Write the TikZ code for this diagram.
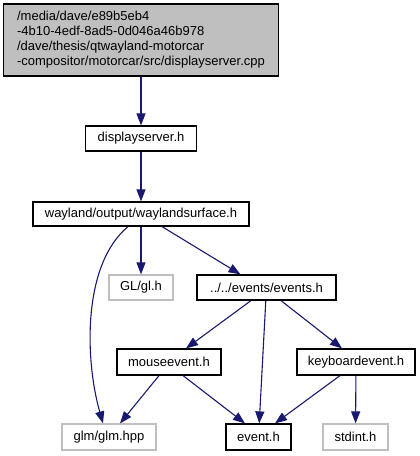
\documentclass[tikz,border=0pt]{standalone}
\usepackage{fontspec}
\setmainfont{Liberation Sans}
\usetikzlibrary{arrows.meta, positioning}
\definecolor{edgeblue}{RGB}{25, 25, 112}
\definecolor{boxgray}{RGB}{191, 191, 191}

\begin{document}
\begin{tikzpicture}[x=1pt,y=-1pt,
    file/.style={draw=black,line width=1.2pt,fill=white,inner sep=0pt,
                 font=\fontsize{13}{15}\selectfont},
    sysfile/.style={file,draw=boxgray},
    dep/.style={-{Triangle[length=12pt,width=9pt]}}]
        \useasboundingbox (0,0) rectangle (420,456);
        % files
        \node[file,fill=boxgray,minimum width=275pt,minimum height=72pt,
              align=left] (src) at (141,40)
              {/media/dave/e89b5eb4\\-4b10-4edf-8ad5-0d046a46b978\\/dave/thesis/qtwayland-motorcar\\-compositor/motorcar/src/displayserver.cpp};
        \node[file,minimum width=111pt,minimum height=25pt] (disp) at (141,138.5) {displayserver.h};
        \node[file,minimum width=216pt,minimum height=24pt] (wsurf) at (141,214) {wayland/output/waylandsurface.h};
        \node[sysfile,minimum width=64pt,minimum height=25pt] (gl) at (141,287.5) {GL/gl.h};
        \node[file,minimum width=139pt,minimum height=25pt] (events) at (266.5,287.5) {../../events/events.h};
        \node[file,minimum width=104pt,minimum height=26pt] (mouse) at (169,362) {mouseevent.h};
        \node[file,minimum width=118pt,minimum height=26pt] (keyb) at (356,362) {keyboardevent.h};
        \node[sysfile,minimum width=94pt,minimum height=26pt] (glm) at (109,437) {glm/glm.hpp};
        \node[file,minimum width=65pt,minimum height=26pt] (event) at (258.5,437) {event.h};
        \node[sysfile,minimum width=65pt,minimum height=26pt] (stdint) at (355.5,437) {stdint.h};
        % includes
        \begin{scope}[edgeblue,line width=1.1pt]
        \draw[dep] (src) -- (disp);
        \draw[dep] (disp) -- (wsurf);
        \draw[dep] ([xshift=-13pt]wsurf.south) .. controls (82,265) and (85,360) .. ([xshift=-6pt]glm.north);
        \draw[dep] (wsurf) -- (gl);
        \draw[dep] ([xshift=21pt]wsurf.south) -- ([xshift=-26pt]events.north);
        \draw[dep] ([xshift=-15.5pt]events.south) -- ([xshift=17pt]mouse.north);
        \draw[dep] (events) -- (event);
        \draw[dep] ([xshift=14.5pt]events.south) -- ([xshift=-14pt]keyb.north);
        \draw[dep] ([xshift=-10pt]mouse.south) -- ([xshift=11pt]glm.north);
        \draw[dep] ([xshift=14pt]mouse.south) -- ([xshift=-13.5pt]event.north);
        \draw[dep] ([xshift=-16pt]keyb.south) -- ([xshift=16.5pt]event.north);
        \draw[dep] (keyb) -- (stdint);
        \end{scope}
      \end{tikzpicture}
\end{document}
